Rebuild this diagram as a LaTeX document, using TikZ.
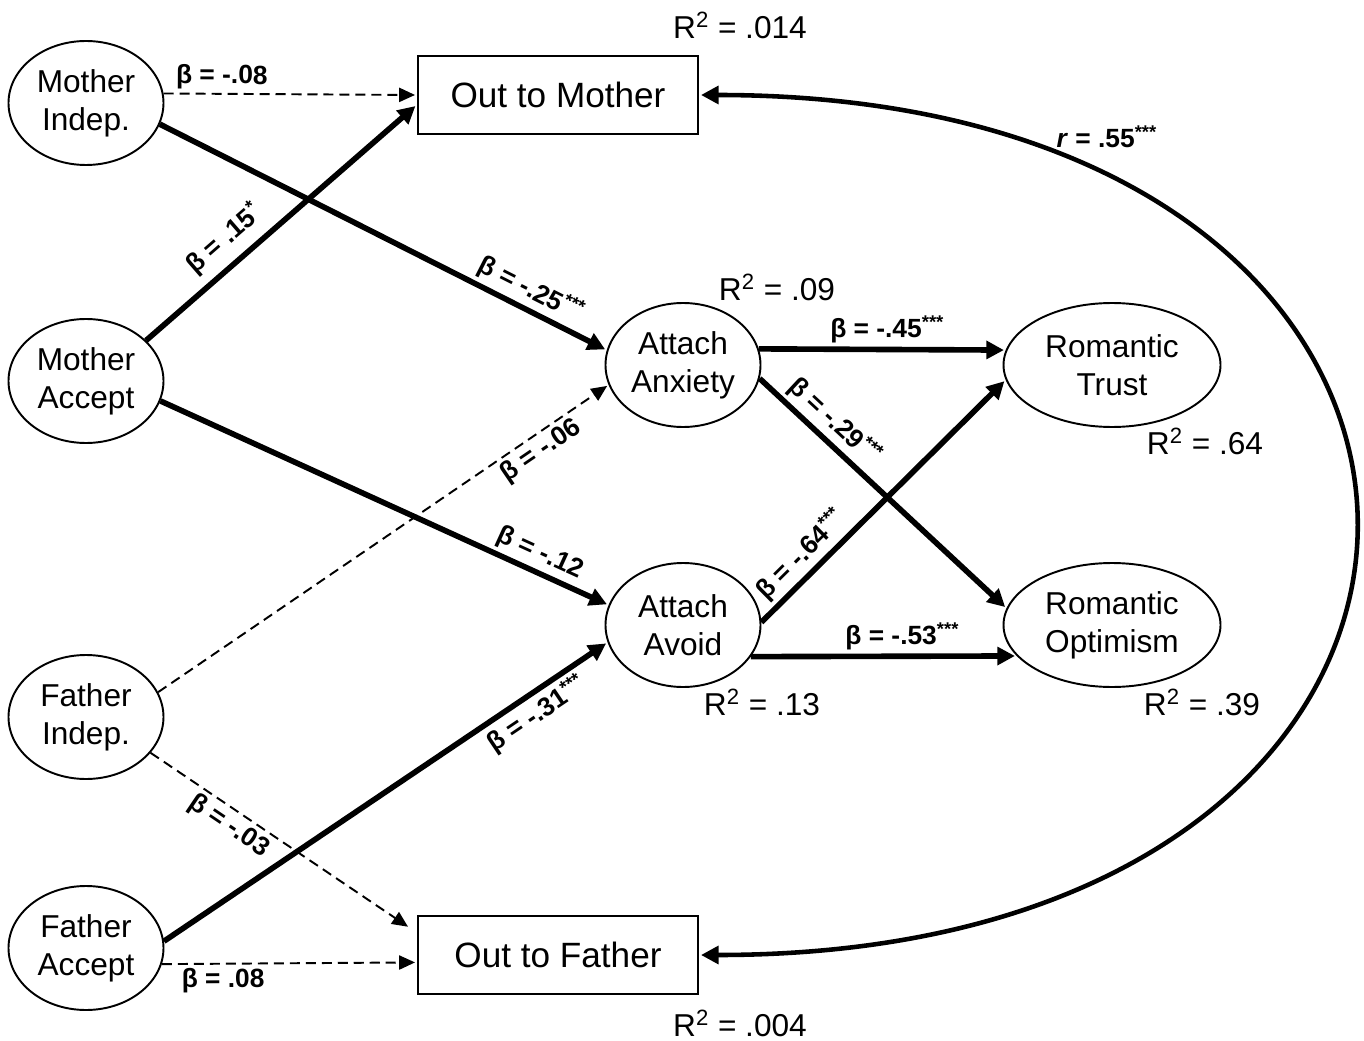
\documentclass[tikz,border=0pt]{standalone}
\usepackage{fontspec}
\setmainfont{Liberation Sans}
\usetikzlibrary{positioning,arrows.meta,shapes.geometric}

\begin{document}
\begin{tikzpicture}[shorten >=1pt, on grid,
  latent/.style={ellipse, draw, line width=1.1pt, inner sep=0pt, align=center,
    minimum width=3.1cm, minimum height=2.48cm, font=\fontsize{18}{21.5}\selectfont},
  wide/.style={latent, minimum width=4.34cm},
  observed/.style={rectangle, draw, line width=1.4pt, minimum width=5.6cm,
    minimum height=1.56cm, font=\fontsize{20}{24}\selectfont},
  sig/.style={line width=3.2pt, -{Triangle[length=10pt,width=10pt]}},
  ns/.style={line width=1.1pt, dash pattern=on 5.7pt off 3.4pt, -{Triangle[length=9pt,width=8pt]}},
  coef/.style={font=\bfseries\fontsize{15}{17}\selectfont, sloped, inner sep=2pt},
  corr/.style={line width=2.6pt, shorten <=1pt,
    {Triangle[length=10pt,width=10pt]}-{Triangle[length=10pt,width=10pt]}},
  rsq/.style={font=\fontsize{18}{21}\selectfont}]

\useasboundingbox (0,0) rectangle (27.28,-20.82);

% parents
\node[latent] (mi) at (1.72,-2.06) {Mother\\Indep.};
\node[latent] (ma) [below=5.56cm of mi] {Mother\\Accept};
\node[latent] (fi) [below=6.72cm of ma] {Father\\Indep.};
\node[latent] (fa) [below=4.62cm of fi] {Father\\Accept};

% outness
\node[observed] (om) at (11.16,-1.90) {Out to Mother};
\node[observed] (of) [below=17.2cm of om] {Out to Father};

% attachment and romantic outcomes
\node[latent] (anx) at (13.66,-7.30) {Attach\\Anxiety};
\node[latent] (avd) [below=5.2cm of anx] {Attach\\Avoid};
\node[wide] (trust) [right=8.58cm of anx] {Romantic\\Trust};
\node[wide] (opt) [right=8.58cm of avd] {Romantic\\Optimism};

% explained variance
\node[rsq] (r2om) [above right=1.4cm and 3.64cm of om] {R\textsuperscript{2} = .014};
\node[rsq] (r2of) [below right=1.36cm and 3.64cm of of] {R\textsuperscript{2} = .004};
\node[rsq] (r2anx) [above right=1.56cm and 1.88cm of anx] {R\textsuperscript{2} = .09};
\node[rsq] (r2avd) [below right=1.54cm and 1.58cm of avd] {R\textsuperscript{2} = .13};
\node[rsq] (r2trust) [below right=1.52cm and 1.86cm of trust] {R\textsuperscript{2} = .64};
\node[rsq] (r2opt) [below right=1.54cm and 1.80cm of opt] {R\textsuperscript{2} = .39};


\path
(mi.7) edge[ns] node[coef, above, pos=.23] {β = -.08} (om.west)
(mi.-16) edge[sig] node[coef, above, pos=.81] {β = -.25\textsuperscript{***}} (anx.169);


\path
(ma.34) edge[sig] node[coef, above=3pt, pos=.35] {β = .15\textsuperscript{*}} (om.184)
(ma.-15) edge[sig] node[coef, above, pos=.83] {β = -.12} (avd.165);


\path
(fi.19) edge[ns] node[coef, below, pos=.83] {β = -.06} (anx.195)
(fi.-29) edge[ns, shorten >=6pt] node[coef, below, pos=.33] {β = -.03} (of.171);


\path
(fa.5) edge[sig] node[coef, below, pos=.815] {β = -.31\textsuperscript{***}} (avd.193)
(fa.-12) edge[ns] node[coef, below, pos=.24] {β = .08} (of.183);


\path
(anx.12) edge[sig] node[coef, above, pos=.52] {β = -.45\textsuperscript{***}} (trust.172)
(anx.-10) edge[sig] node[coef, above, pos=.25] {β = -.29\textsuperscript{***}} (opt.171);


\path
(avd.2) edge[sig] node[coef, above, pos=.22] {β = -.64\textsuperscript{***}} (trust.188)
(avd.-25) edge[sig] node[coef, above, pos=.57] {β = -.53\textsuperscript{***}} (opt.198);


\path
(om) edge[corr, out=0, in=0, looseness=2.6]
  node[pos=.16, above right, inner sep=2pt, font=\bfseries\fontsize{15}{17}\selectfont] {\textit{r} = .55\textsuperscript{***}} (of);

\end{tikzpicture}
\end{document}
